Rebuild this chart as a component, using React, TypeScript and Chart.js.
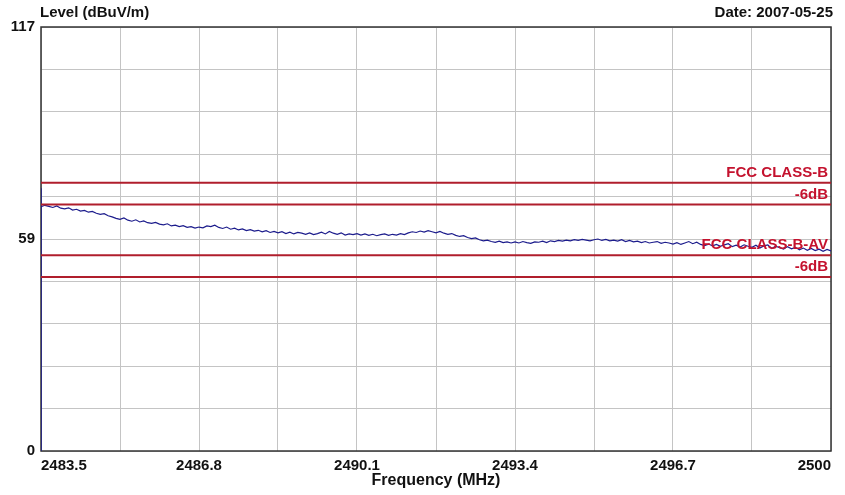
import React, { useEffect, useRef } from "react";
import { Chart, registerables } from "chart.js";

Chart.register(...registerables);

const freqStart = 2483.5;
const freqStop = 2500;

// Measured level trace (dBuV/m), evenly spaced from freqStart to freqStop
const levels = [
  67.4, 67.8, 67.5, 67.2, 67.6, 67.0, 66.8, 67.1, 66.5, 66.7, 66.2, 66.4, 65.9, 66.1, 65.6, 65.3, 65.5, 64.9, 64.6, 64.2,
  63.9, 64.3, 63.7, 63.4, 63.8, 63.2, 63.5, 63.0, 62.8, 63.1, 62.6, 62.4, 62.7, 62.1, 62.3, 61.9, 62.2, 61.7, 61.9, 61.5,
  61.8, 61.6, 62.1, 61.9, 62.3, 61.7, 61.4, 61.8, 61.2, 61.5, 61.0, 61.3, 60.8, 61.1, 60.7, 60.9, 60.5, 60.8, 60.3, 60.6,
  60.2, 60.5, 60.0, 60.4, 59.9, 60.3, 60.1, 59.8, 60.2, 59.7, 60.0, 60.4, 59.9, 60.6, 60.1, 59.8, 60.2, 59.6, 59.9, 59.7,
  60.0, 59.6, 59.9, 59.5, 59.8, 59.4, 59.7, 59.9, 59.5, 59.8, 59.6, 60.0, 59.7, 60.2, 60.5, 60.3, 60.7, 60.4, 60.8, 60.5,
  60.2, 60.6, 60.1, 59.8, 60.0, 59.5, 59.2, 59.4, 58.9, 58.6, 58.8, 58.3, 58.0, 58.2, 57.8, 57.6, 57.9, 57.5, 57.7, 57.4,
  57.7, 57.4, 57.8, 57.5, 57.3, 57.7, 57.6, 57.9, 57.5, 58.0, 57.8, 58.1, 57.9, 58.2, 58.0, 58.3, 58.1, 58.4, 58.2, 58.0,
  58.3, 58.5, 58.1, 58.4, 58.0, 58.2, 57.9, 58.3, 57.8, 58.1, 57.7, 57.9, 57.5, 57.8, 57.4, 57.6, 57.8, 57.3, 57.6, 57.4,
  57.1, 57.5, 57.0, 57.4, 57.8, 57.2, 57.6, 57.0, 56.7, 57.1, 56.6, 57.0, 56.5, 56.9, 57.2, 56.4, 56.8, 56.3, 56.9, 56.5,
  56.2, 56.8, 56.0, 56.6, 56.9, 55.9, 56.5, 56.1, 55.7, 56.4, 55.8, 56.2, 55.5, 56.0, 55.4, 55.9, 55.3, 55.7, 55.1, 55.6, 55.2,
];

// Start-of-sweep spike at the first frequency
const spikeLevels = [0, 72.5, 49.8, 67.4];

const limitNames = ["FCC CLASS-B", "-6dB", "FCC CLASS-B-AV", "-6dB"];
const limitLevels = [74, 68, 54, 48];

const xTickValues = [2483.5, 2485.15, 2486.8, 2488.45, 2490.1, 2491.75, 2493.4, 2495.05, 2496.7, 2498.35, 2500];
const xTickLabels = ["2483.5", "", "2486.8", "", "2490.1", "", "2493.4", "", "2496.7", "", "2500"];
const yTickValues = [0, 11.7, 23.4, 35.1, 46.8, 58.5, 70.2, 81.9, 93.6, 105.3, 117];
const yTickLabels = ["0", "", "", "", "", "59", "", "", "", "", "117"];

const yTitle = "Level (dBuV/m)";
const xTitle = "Frequency (MHz)";
const dateText = "Date: 2007-05-25";

const FONT = "'Liberation Sans', Arial, sans-serif";
const LIMIT_LINE = "#b01e2c";
const LIMIT_TEXT = "#c4122e";
const TRACE = "#1c1c8c";

export default function App() {
  const ref = useRef<HTMLCanvasElement | null>(null);

  useEffect(() => {
    if (!ref.current) return;
    const step = (freqStop - freqStart) / (levels.length - 1);
    const trace = levels.map((v, i) => ({ x: freqStart + i * step, y: v }));
    const spike = spikeLevels.map((v) => ({ x: freqStart, y: v }));

    const limitSets = limitLevels.map((lv, i) => ({
      label: limitNames[i],
      data: [
        { x: freqStart, y: lv },
        { x: freqStop, y: lv },
      ],
      borderColor: LIMIT_LINE,
      borderWidth: 2,
      pointRadius: 0,
      tension: 0,
    }));

    const decor = {
      id: "decor",
      beforeDatasetsDraw(chart: any) {
        const { ctx, chartArea } = chart;
        ctx.save();
        ctx.strokeStyle = "#333";
        ctx.lineWidth = 1.5;
        ctx.strokeRect(chartArea.left, chartArea.top, chartArea.right - chartArea.left, chartArea.bottom - chartArea.top);
        ctx.restore();
      },
      afterDatasetsDraw(chart: any) {
        const { ctx, chartArea, scales } = chart;
        ctx.save();
        ctx.fillStyle = LIMIT_TEXT;
        ctx.font = `bold 15px ${FONT}`;
        ctx.textAlign = "right";
        ctx.textBaseline = "alphabetic";
        limitLevels.forEach((lv, i) => {
          const y = scales.y.getPixelForValue(lv);
          ctx.fillText(limitNames[i], chartArea.right - 3, y - 6);
        });
        ctx.fillStyle = "#111";
        ctx.textAlign = "left";
        ctx.fillText(yTitle, chartArea.left - 1, 17);
        ctx.textAlign = "right";
        ctx.fillText(dateText, chartArea.right + 2, 17);
        ctx.font = `bold 16px ${FONT}`;
        ctx.textAlign = "center";
        ctx.textBaseline = "middle";
        ctx.fillText(xTitle, (chartArea.left + chartArea.right) / 2, 481);
        ctx.restore();
      },
    };

    const chart = new Chart(ref.current, {
      type: "line",
      data: {
        datasets: [
          ...limitSets,
          {
            label: "Spike",
            data: spike,
            borderColor: TRACE,
            borderWidth: 1.5,
            pointRadius: 0,
            tension: 0,
          },
          {
            label: "Level",
            data: trace,
            borderColor: TRACE,
            borderWidth: 1.2,
            pointRadius: 0,
            tension: 0,
          },
        ],
      },
      options: {
        animation: false,
        responsive: true,
        maintainAspectRatio: false,
        layout: { padding: { left: 0, top: 27, right: 14, bottom: 0 } },
        plugins: { legend: { display: false }, tooltip: { enabled: false }, title: { display: false } },
        scales: {
          x: {
            type: "linear",
            min: freqStart,
            max: freqStop,
            afterBuildTicks: (axis: any) => {
              axis.ticks = xTickValues.map((v) => ({ value: v }));
            },
            afterFit: (axis: any) => {
              axis.height = 44;
            },
            grid: { color: "#c4c4c4", lineWidth: 1, drawTicks: false },
            border: { display: false },
            ticks: {
              autoSkip: false,
              maxRotation: 0,
              align: "inner",
              padding: 6,
              color: "#111",
              font: { family: FONT, size: 15, weight: "bold" },
              callback: (_v: any, i: number) => xTickLabels[i],
            },
          },
          y: {
            type: "linear",
            min: 0,
            max: 117,
            afterBuildTicks: (axis: any) => {
              axis.ticks = yTickValues.map((v) => ({ value: v }));
            },
            afterFit: (axis: any) => {
              axis.width = 41;
            },
            grid: { color: "#c4c4c4", lineWidth: 1, drawTicks: false },
            border: { display: false },
            ticks: {
              autoSkip: false,
              padding: 6,
              color: "#111",
              font: { family: FONT, size: 15, weight: "bold" },
              callback: (_v: any, i: number) => yTickLabels[i],
            },
          },
        },
      },
      plugins: [decor],
    } as any);
    return () => chart.destroy();
  }, []);

  return (
    <div style={{ position: "fixed", left: 0, top: 0, width: 845, height: 495, background: "#fff" }}>
      <canvas ref={ref} />
    </div>
  );
}
